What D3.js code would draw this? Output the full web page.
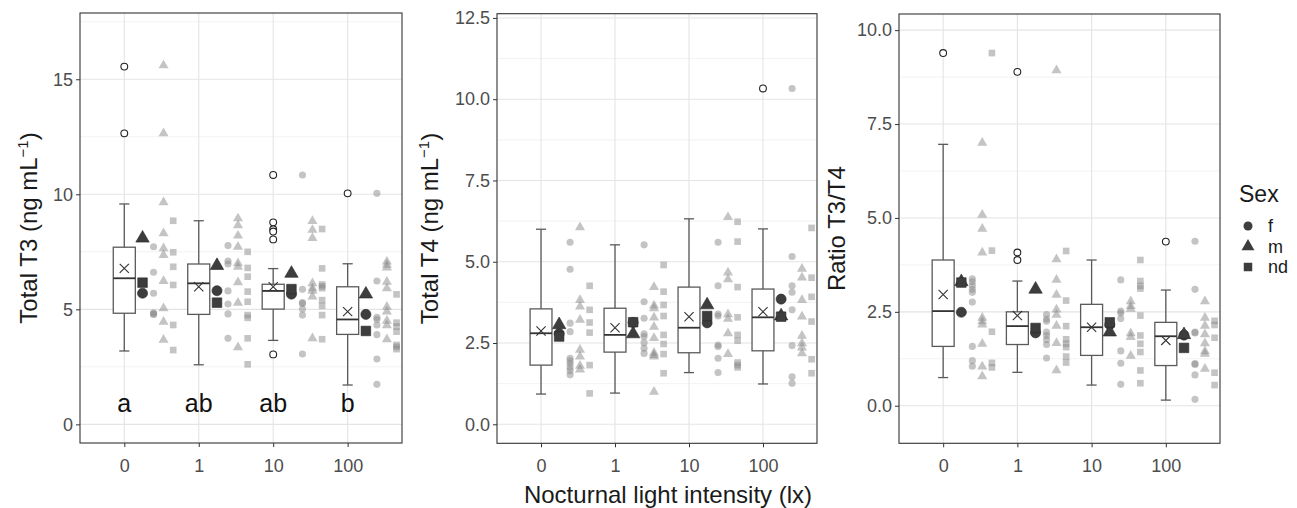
<!DOCTYPE html>
<html><head><meta charset="utf-8">
<script src="https://cdn.jsdelivr.net/npm/d3@7"></script>
<style>
body{margin:0;background:#fff;}
svg{display:block;font-family:"Liberation Sans",Arial,sans-serif;}
</style>
</head><body><svg id="c" width="1297" height="508"></svg>
<script>
// ---------- data ----------
const categories = ["0", "1", "10", "100"];
const sexes = ["f", "m", "nd"];
const letters = ["a", "ab", "ab", "b"];
const letterY = 0.55;

// Total T3: box [low whisker, Q1, median, Q3, high whisker]
const t3Box = [[3.19,4.83,6.35,7.70,9.58],[2.59,4.78,6.13,6.97,8.85],[3.65,5.01,5.80,6.09,6.77],[1.71,3.91,4.56,5.98,6.98]];
const t3Mean = [6.78, 5.98, 5.98, 4.90];
const t3Outliers = [[15.55,12.65],[],[10.84,8.78,8.48,8.38,8.04,3.04],[10.04]];
const t3SexMeanF = [5.70, 5.81, 5.66, 4.78];
const t3SexMeanM = [8.09, 6.90, 6.56, 5.66];
const t3SexMeanNd = [6.16, 5.29, 5.88, 4.06];
const t3F = [[7.72,6.61,5.70,4.85,4.80,4.78],[7.77,7.10,6.97,5.80,5.23,4.80,3.74],[10.84,5.87,5.29,5.25,5.01,4.75,3.06],[10.04,6.23,4.65,4.56,4.32,3.90,2.84,1.74]];
const t3M = [[15.6,12.65,9.65,8.30,7.65,7.36,6.23,5.04,4.46,3.67],[8.95,8.65,8.20,7.72,7.00,6.85,6.17,5.28,3.35],[8.84,8.45,8.10,6.13,5.91,5.80,5.55,3.74],[7.07,6.93,6.81,6.20,5.91,5.11,4.90,4.50,4.30,3.70]];
const t3Nd = [[8.85,7.48,6.85,6.06,4.32,3.23],[7.50,6.80,6.42,5.77,5.33,4.75,4.63,3.74,2.61],[8.49,6.78,6.08,6.00,5.92,5.40,5.15,4.75,3.70],[5.65,4.42,4.25,4.03,3.45,3.37,3.27]];
const t3Ticks = [0, 5, 10, 15];
const t3Minor = [2.5, 7.5, 12.5, 17.5];

// Total T4
const t4Box = [[0.93,1.82,2.80,3.55,6.00],[0.96,2.22,2.75,3.57,5.52],[1.59,2.20,2.97,4.22,6.32],[1.24,2.26,3.29,4.16,6.01]];
const t4Mean = [2.87, 2.97, 3.31, 3.46];
const t4Outliers = [[],[],[],[10.33]];
const t4SexMeanF = [2.79, 3.13, 3.12, 3.85];
const t4SexMeanM = [3.06, 2.78, 3.67, 3.33];
const t4SexMeanNd = [2.70, 3.14, 3.33, 3.31];
const t4F = [[5.60,4.77,3.11,2.85,2.03,1.95,1.86,1.75,1.65,1.52],[5.52,3.77,3.26,2.78,2.70,2.51,2.34,2.18],[5.60,4.26,3.39,3.33,2.44,2.39,2.03,1.59],[10.33,5.16,4.26,4.06,3.52,2.42,1.46,1.26]];
const t4M = [[6.06,3.82,3.62,3.21,2.29,2.08,1.80,1.68],[4.22,3.65,3.57,3.28,3.00,2.65,2.20,2.13,2.08,1.00],[6.37,4.67,4.46,3.38,3.24,2.80,2.16],[4.78,4.51,3.82,3.31,2.72,2.49,2.36,2.18]];
const t4Nd = [[4.26,3.52,3.13,2.82,1.82,0.95],[4.90,4.08,3.67,3.33,2.75,2.47,2.16,1.57],[6.23,5.62,4.22,3.29,2.75,2.57,1.90,1.82,1.75],[6.04,4.51,3.92,3.16,2.00,1.57]];
const t4Ticks = [0, 2.5, 5, 7.5, 10, 12.5];
const t4Minor = [1.25, 3.75, 6.25, 8.75, 11.25];

// Ratio T3/T4
const rBox = [[0.75,1.58,2.52,3.88,6.96],[0.89,1.63,2.12,2.50,3.32],[0.55,1.34,2.09,2.70,3.88],[0.15,1.07,1.85,2.22,3.08]];
const rMean = [2.96, 2.40, 2.09, 1.74];
const rOutliers = [[9.39],[8.89,4.08,3.88],[],[4.37]];
const rSexMeanF = [2.49, 1.94, 2.16, 1.88];
const rSexMeanM = [3.30, 3.10, 1.96, 1.89];
const rSexMeanNd = [3.28, 2.07, 2.22, 1.54];
const rF = [[3.38,3.30,3.20,3.10,3.02,2.76,1.58,1.20,1.05],[2.43,2.31,2.25,1.96,1.87,1.76,1.63,1.27],[3.35,2.52,2.47,2.32,1.46,1.13,0.57],[4.38,3.10,1.96,1.94,1.12,1.10,0.82,0.17]];
const rM = [[7.00,5.08,4.71,4.08,2.34,2.25,2.16,1.65,1.04,0.78],[8.93,3.90,3.35,2.95,2.56,2.42,2.13,1.67,0.94],[2.78,2.65,2.58,1.93,1.83,1.33],[2.78,2.34,2.13,1.90,1.66,1.45,1.38,0.98]];
const rNd = [[9.39,4.13,1.97,1.14,1.02],[4.12,2.80,2.12,1.77,1.65,1.56,1.31,1.15],[3.88,3.32,3.19,3.12,2.40,1.87,1.65,1.43,0.94,0.60],[2.26,2.15,1.81,0.88,0.55]];
const rTicks = [0, 2.5, 5, 7.5, 10];
const rMinor = [1.25, 3.75, 6.25, 8.75];

// ---------- layout ----------
const panels = [
  {x0:80, x1:402, y0:13, y1:443, dom:[-0.81,17.88], ticks:t3Ticks, minor:t3Minor, fmt:d3.format("d"),
   box:t3Box, mean:t3Mean, out:t3Outliers, sm:[t3SexMeanF,t3SexMeanM,t3SexMeanNd], pts:[t3F,t3M,t3Nd],
   title:"T3", titleX:37, letters:true},
  {x0:497, x1:817, y0:13.7, y1:443.3, dom:[-0.585,12.63], ticks:t4Ticks, minor:t4Minor, fmt:d3.format(".1f"),
   box:t4Box, mean:t4Mean, out:t4Outliers, sm:[t4SexMeanF,t4SexMeanM,t4SexMeanNd], pts:[t4F,t4M,t4Nd],
   title:"T4", titleX:438},
  {x0:899, x1:1220, y0:14, y1:443.3, dom:[-1.0,10.43], ticks:rTicks, minor:rMinor, fmt:d3.format(".1f"),
   box:rBox, mean:rMean, out:rOutliers, sm:[rSexMeanF,rSexMeanM,rSexMeanNd], pts:[rF,rM,rNd],
   title:"ratio", titleX:845}
];

const svg = d3.select("#c");
const symTypes = [d3.symbolCircle, d3.symbolTriangle, d3.symbolSquare];
const ptSizes = [40, 44, 44];
const meanSizes = [80, 78, 92];
const sexOffset = [0.393, 0.527, 0.657];
const meanOffset = 0.245;
const boxHalf = 0.148, capHalf = 0.068;

panels.forEach(p => {
  const x = d3.scaleLinear().domain([0.405, 4.73]).range([p.x0, p.x1]);
  const y = d3.scaleLinear().domain(p.dom).range([p.y1, p.y0]);
  const g = svg.append("g");
  // grid
  g.selectAll(".mi").data(p.minor).join("line")
    .attr("x1",p.x0).attr("x2",p.x1).attr("y1",d=>y(d)).attr("y2",d=>y(d))
    .attr("stroke","#ececec").attr("stroke-width",0.7);
  g.selectAll(".ma").data(p.ticks).join("line")
    .attr("x1",p.x0).attr("x2",p.x1).attr("y1",d=>y(d)).attr("y2",d=>y(d))
    .attr("stroke","#e4e4e4").attr("stroke-width",1.1);
  g.selectAll(".mx").data(categories).join("line")
    .attr("x1",(d,i)=>x(i+1)).attr("x2",(d,i)=>x(i+1)).attr("y1",p.y0).attr("y2",p.y1)
    .attr("stroke","#e4e4e4").attr("stroke-width",1.1);

  // whiskers
  const bc = "#5a5a5a";
  p.box.forEach((b,i) => {
    const cx = x(i+1);
    g.append("line").attr("x1",cx).attr("x2",cx).attr("y1",y(b[4])).attr("y2",y(b[0])).attr("stroke",bc).attr("stroke-width",1.3);
    [b[0], b[4]].forEach(v => g.append("line").attr("x1",x(i+1-capHalf)).attr("x2",x(i+1+capHalf))
      .attr("y1",y(v)).attr("y2",y(v)).attr("stroke",bc).attr("stroke-width",1.3));
    g.append("rect").attr("x",x(i+1-boxHalf)).attr("width",x(i+1+boxHalf)-x(i+1-boxHalf))
      .attr("y",y(b[3])).attr("height",y(b[1])-y(b[3])).attr("fill","#fff").attr("stroke",bc).attr("stroke-width",1.3);
    g.append("line").attr("x1",x(i+1-boxHalf)).attr("x2",x(i+1+boxHalf)).attr("y1",y(b[2])).attr("y2",y(b[2]))
      .attr("stroke","#333").attr("stroke-width",1.8);
  });
  // mean crosses
  p.mean.forEach((m,i) => {
    const cx = x(i+1), cy = y(m), s = 4.6;
    g.append("path").attr("d",`M${cx-s},${cy-s}L${cx+s},${cy+s}M${cx-s},${cy+s}L${cx+s},${cy-s}`)
      .attr("stroke","#333").attr("stroke-width",1.1).attr("fill","none");
  });
  // outliers
  p.out.forEach((arr,i) => {
    g.selectAll(null).data(arr).join("circle").attr("cx",x(i+1)).attr("cy",d=>y(d)).attr("r",3.4)
      .attr("fill","#fff").attr("stroke","#222").attr("stroke-width",1.1);
  });
  // raw points by sex
  p.pts.forEach((bySex, s) => {
    bySex.forEach((arr,i) => {
      g.selectAll(null).data(arr).join("path")
        .attr("d", d3.symbol().type(symTypes[s]).size(ptSizes[s]))
        .attr("transform", d => `translate(${x(i+1+sexOffset[s])},${y(d)})`)
        .attr("fill","#8a8a8a").attr("fill-opacity",0.5);
    });
  });
  // sex means
  p.sm.forEach((arr, s) => {
    g.selectAll(null).data(arr).join("path")
      .attr("d", d3.symbol().type(symTypes[s]).size(meanSizes[s]))
      .attr("transform", (d,i) => `translate(${x(i+1+meanOffset)},${y(d)})`)
      .attr("fill","#3d3d3d").attr("stroke","#2a2a2a").attr("stroke-width",0.6);
  });
  // letters
  if (p.letters) {
    g.selectAll(null).data(letters).join("text")
      .attr("x",(d,i)=>x(i+1)).attr("y",y(letterY)).attr("text-anchor","middle")
      .attr("font-size",25).attr("fill","#111").text(d=>d);
  }
  // border
  g.append("rect").attr("x",p.x0).attr("y",p.y0).attr("width",p.x1-p.x0).attr("height",p.y1-p.y0)
    .attr("fill","none").attr("stroke","#333").attr("stroke-width",1.1);

  // axes
  const ya = g.append("g").attr("transform",`translate(${p.x0},0)`)
    .call(d3.axisLeft(y).tickValues(p.ticks).tickFormat(p.fmt).tickSize(4).tickPadding(3));
  const xa = g.append("g").attr("transform",`translate(0,${p.y1})`)
    .call(d3.axisBottom(x).tickValues([1,2,3,4]).tickFormat((d,i)=>categories[i]).tickSize(4).tickPadding(12));
  [ya, xa].forEach(a => {
    a.select(".domain").remove();
    a.selectAll(".tick line").attr("stroke","#333");
    a.selectAll(".tick text").attr("fill","#4d4d4d").attr("font-size",18)
      .attr("font-family","'Liberation Sans',Arial,sans-serif");
  });

  // y title
  const cy = (p.y0 + p.y1) / 2;
  const t = svg.append("text").attr("transform",`translate(${p.titleX},${cy}) rotate(-90)`)
    .attr("text-anchor","middle").attr("font-size",24).attr("fill","#1a1a1a");
  if (p.title === "ratio") {
    t.text("Ratio T3/T4");
  } else {
    t.append("tspan").text(`Total ${p.title} (ng mL`);
    t.append("tspan").attr("font-size",15).attr("dy",-9).text("\u22121");
    t.append("tspan").attr("dy",9).text(")");
  }
});

// x title
svg.append("text").attr("x",668).attr("y",503).attr("text-anchor","middle")
  .attr("font-size",24).attr("fill","#1a1a1a").text("Nocturnal light intensity (lx)");

// legend
const lg = svg.append("g");
lg.append("text").attr("x",1239).attr("y",202).attr("font-size",23).attr("fill","#1a1a1a").text("Sex");
const legY = [226, 246.5, 267];
const legSizes = [64, 72, 72];
sexes.forEach((s,i) => {
  lg.append("path").attr("d", d3.symbol().type(symTypes[i]).size(legSizes[i]))
    .attr("transform",`translate(1248,${legY[i]})`).attr("fill","#3d3d3d");
  lg.append("text").attr("x",1268).attr("y",legY[i]+6).attr("font-size",18).attr("fill","#1a1a1a").text(s);
});
</script>
</body></html>
